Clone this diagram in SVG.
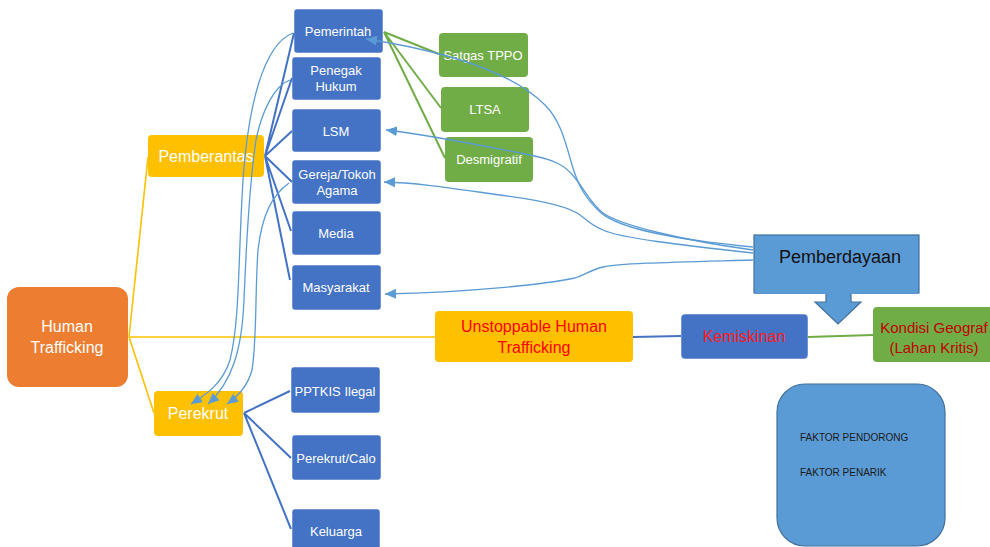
<svg xmlns="http://www.w3.org/2000/svg" width="990" height="547" viewBox="0 0 990 547">
<defs>
<style>
.t{font-family:"Liberation Sans",Arial,sans-serif;text-anchor:middle;dominant-baseline:central}
.w{fill:#ffffff}
.bn{fill:#4472C4;stroke:#ffffff;stroke-opacity:.5}
.gn{fill:#70AD47}
.yn{fill:#FFC000}
.lb{fill:#5B9BD5;stroke:#41719C;stroke-width:1.2}
.cy{stroke:#FFC000;stroke-width:1.6;fill:none}
.cb{stroke:#4472C4;stroke-width:2;fill:none}
.cg{stroke:#70AD47;stroke-width:2;fill:none}
.cc{stroke:#5B9BD5;stroke-width:1.3;fill:none;marker-end:url(#ah)}
</style>
<marker id="ah" markerUnits="userSpaceOnUse" markerWidth="12" markerHeight="10" refX="11" refY="5" orient="auto">
<path d="M0,0 L11,5 L0,10 z" fill="#5B9BD5"/>
</marker>
</defs>
<rect width="990" height="547" fill="#ffffff"/>

<g id="human-trafficking"><rect x="7" y="287" width="121" height="100" rx="12" fill="#ED7D31"/><text class="t w" x="67" y="326" font-size="16">Human</text><text class="t w" x="67" y="347" font-size="16">Trafficking</text></g>
<g id="pemberantas"><rect class="yn" x="148" y="135" width="116" height="42" rx="4"/><text class="t w" x="206" y="156" font-size="16">Pemberantas</text></g>
<g id="perekrut"><rect class="yn" x="154" y="391" width="89" height="45" rx="4"/><text class="t w" x="198" y="413" font-size="16">Perekrut</text></g>

<g id="pemerintah"><rect class="bn" x="294" y="9" width="89" height="44" rx="3"/><text class="t w" x="338" y="31" font-size="13">Pemerintah</text></g>
<g id="penegak-hukum"><rect class="bn" x="292" y="57" width="89" height="43" rx="3"/><text class="t w" x="336" y="70" font-size="13">Penegak</text><text class="t w" x="336" y="86" font-size="13">Hukum</text></g>
<g id="lsm"><rect class="bn" x="292" y="109" width="89" height="43" rx="3"/><text class="t w" x="336" y="131" font-size="13">LSM</text></g>
<g id="gereja"><rect class="bn" x="292" y="160" width="89" height="44" rx="3"/><text class="t w" x="337" y="174" font-size="13">Gereja/Tokoh</text><text class="t w" x="337" y="190" font-size="13">Agama</text></g>
<g id="media"><rect class="bn" x="292" y="211" width="89" height="44" rx="3"/><text class="t w" x="336" y="233" font-size="13">Media</text></g>
<g id="masyarakat"><rect class="bn" x="292" y="265" width="89" height="45" rx="3"/><text class="t w" x="336" y="287" font-size="13">Masyarakat</text></g>
<g id="pptkis"><rect class="bn" x="291" y="367" width="89" height="46" rx="3"/><text class="t w" x="335" y="391" font-size="13">PPTKIS Ilegal</text></g>
<g id="perekrut-calo"><rect class="bn" x="292" y="435" width="89" height="45" rx="3"/><text class="t w" x="336" y="458" font-size="13">Perekrut/Calo</text></g>
<g id="keluarga"><rect class="bn" x="292" y="509" width="88" height="44" rx="3"/><text class="t w" x="336" y="531" font-size="13">Keluarga</text></g>

<g id="satgas"><rect class="gn" x="439" y="33" width="89" height="44" rx="4"/><text class="t w" x="483" y="55" font-size="13">Satgas TPPO</text></g>
<g id="ltsa"><rect class="gn" x="441" y="87" width="88" height="45" rx="4"/><text class="t w" x="485" y="109" font-size="13">LTSA</text></g>
<g id="desmigratif"><rect class="gn" x="445" y="137" width="88" height="45" rx="4"/><text class="t w" x="489" y="159" font-size="13">Desmigratif</text></g>

<g id="pemberdayaan"><rect class="lb" x="754" y="235" width="165" height="58"/><path class="lb" d="M826,293 L851,293 L851,302 L861,302 L838,324 L815,302 L826,302 Z"/><rect x="755" y="292" width="163" height="2" fill="#5B9BD5"/><text class="t" x="840" y="257" font-size="18" fill="#111111">Pemberdayaan</text></g>
<g id="unstoppable"><rect class="yn" x="435" y="311" width="198" height="51" rx="4"/><text class="t" x="534" y="326" font-size="16" fill="#FF0000">Unstoppable Human</text><text class="t" x="534" y="347" font-size="16" fill="#FF0000">Trafficking</text></g>
<g id="kemiskinan"><rect class="bn" x="681" y="314" width="127" height="45" rx="4"/><text class="t" x="744" y="336" font-size="16" fill="#FF1A1A">Kemiskinan</text></g>
<g id="kondisi"><rect class="gn" x="873" y="307" width="125" height="55" rx="4"/><text class="t" x="934" y="327" font-size="15" fill="#C00000">Kondisi Geograf</text><text class="t" x="934" y="347" font-size="15" fill="#C00000">(Lahan Kritis)</text></g>
<g id="faktor"><rect class="lb" x="777" y="384" width="168" height="162" rx="28"/><text x="800" y="441" font-size="10" fill="#1a1a1a" font-family="Liberation Sans, Arial, sans-serif">FAKTOR PENDORONG</text><text x="800" y="476" font-size="10" fill="#1a1a1a" font-family="Liberation Sans, Arial, sans-serif">FAKTOR PENARIK</text></g>

<g id="connectors">
<path class="cy" d="M129,337 L148,157"/>
<path class="cy" d="M129,337 L154,413"/>
<path class="cy" d="M129,337 L435,337"/>
<path class="cb" d="M265,156 L294,33 M265,156 L292,78 M265,156 L292,131 M265,156 L292,182 M265,156 L291,231 M265,156 L290,280"/>
<path class="cb" d="M244,413 L290,391 M244,413 L291,458 M244,413 L291,529"/>
<path class="cg" d="M384,32 L439,54 M384,32 L441,108 M384,32 L445,158"/>
<path class="cb" d="M633,337 L681,336"/>
<path class="cg" d="M808,337 L873,335"/>
<path class="cc" d="M753,247 C680,240 620,230 600,212 C585,198 578,185 572,165 C565,140 560,120 545,105 C520,80 470,55 366,39"/>
<path class="cc" d="M753,250 C680,240 620,225 603,213 C590,203 585,190 575,178 C565,165 555,160 530,155 C480,145 430,135 386,130"/>
<path class="cc" d="M753,253 C680,245 620,238 603,230 C590,225 585,218 580,215 C570,207 540,200 500,195 C450,188 420,183 384,182"/>
<path class="cc" d="M753,260 C680,262 620,263 603,267 C590,270 585,275 575,278 C540,285 470,292 385,294"/>
<path class="cc" d="M293,33 C262,45 248,110 243,180 C238,260 240,320 230,360 C222,385 205,395 191,404"/>
<path class="cc" d="M290,80 C275,85 262,110 256,140 C250,180 246,250 244,300 C242,350 232,382 208,404"/>
<path class="cc" d="M289,183 C272,195 262,215 258,250 C255,290 257,340 252,370 C248,385 240,395 227,404"/>
</g>
</svg>
